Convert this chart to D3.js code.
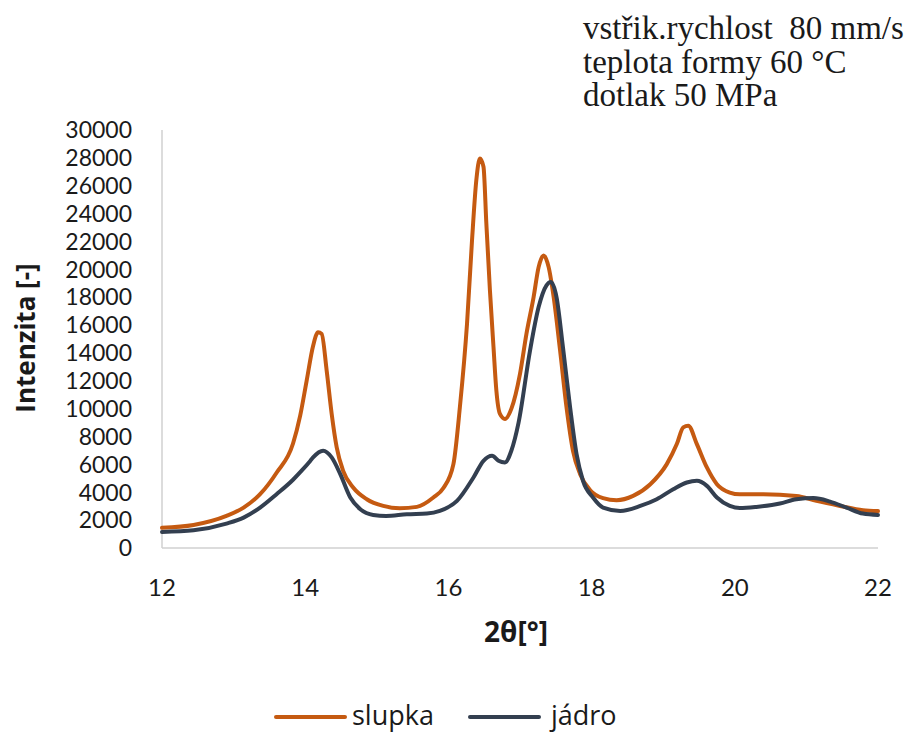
<!DOCTYPE html>
<html>
<head>
<meta charset="utf-8">
<script src="https://cdn.jsdelivr.net/npm/d3@7"></script>
<style>
  html, body { margin: 0; padding: 0; background: #fff; }
  svg { display: block; }
</style>
</head>
<body>
<svg id="chart" width="908" height="735"></svg>
<script>
// Diffraction angle 2θ [°] and intensity for the skin layer ("slupka")
const thetaSlupka = [12.0, 12.44, 12.9, 13.14, 13.37, 13.6, 13.83, 13.93, 14.02, 14.11, 14.18, 14.23, 14.3, 14.37,
  14.44, 14.53, 14.67, 14.86, 15.09, 15.32, 15.56, 15.79, 15.93, 16.07, 16.16, 16.26, 16.33, 16.39, 16.44,
  16.49, 16.53, 16.58, 16.63, 16.67, 16.72, 16.79, 16.88, 17.0, 17.09, 17.19, 17.26, 17.33, 17.4, 17.47,
  17.56, 17.65, 17.74, 17.84, 17.98, 18.16, 18.35, 18.58, 18.82, 19.05, 19.19, 19.28, 19.35, 19.47, 19.61,
  19.75, 19.93, 20.07, 20.4, 20.86, 21.14, 21.47, 21.79, 22.0];
const slupka = [1450, 1650, 2300, 2900, 3860, 5400, 7500, 9500, 12000, 14500, 15490, 15370, 12730, 9620,
  7220, 5540, 4340, 3500, 3020, 2850, 2950, 3620, 4300, 6020, 10090, 16090, 22090, 26400, 27960,
  27360, 23290, 18490, 14410, 11290, 9620, 9260, 10000, 12500, 15370, 18010, 20160, 21000, 20160, 18010,
  14170, 10090, 6980, 5300, 4150, 3580, 3430, 3740, 4580, 6020, 7460, 8660, 8780, 7460, 5780,
  4580, 3980, 3850, 3860, 3740, 3380, 3020, 2710, 2650];

// Diffraction angle 2θ [°] and intensity for the core ("jádro")
const thetaJadro = [12.0, 12.44, 12.9, 13.14, 13.37, 13.6, 13.83, 13.95, 14.07, 14.11, 14.25, 14.37, 14.49, 14.63,
  14.77, 14.95, 15.13, 15.42, 15.7, 15.88, 16.12, 16.35, 16.49, 16.61, 16.7, 16.79, 16.88, 16.98, 17.14,
  17.26, 17.37, 17.43, 17.51, 17.6, 17.7, 17.79, 17.88, 18.02, 18.16, 18.4, 18.68, 18.91, 19.14, 19.33,
  19.47, 19.61, 19.75, 19.93, 20.07, 20.3, 20.63, 20.86, 21.1, 21.33, 21.56, 21.79, 22.0];
const jadro = [1150, 1270, 1750, 2180, 2900, 3860, 4900, 5550, 6250, 6500, 6980, 6500, 5300, 3620,
  2780, 2370, 2300, 2420, 2470, 2660, 3380, 5060, 6260, 6620, 6260, 6140, 7000, 9000, 14170,
  17290, 18850, 19090, 18010, 14410, 10090, 6740, 4820, 3620, 2900, 2660, 3020, 3500, 4220, 4700,
  4820, 4460, 3620, 3020, 2870, 2950, 3190, 3500, 3580, 3330, 2900, 2470, 2370];

const xTicks = [12, 14, 16, 18, 20, 22];
const yTicks = [0, 2000, 4000, 6000, 8000, 10000, 12000, 14000, 16000, 18000, 20000, 22000, 24000, 26000, 28000, 30000];

const seriesNames = ["slupka", "jádro"];
const seriesColors = ["#C55A11", "#333F50"];
const noteLines = ["vstřik.rychlost  80 mm/s", "teplota formy 60 °C", "dotlak 50 MPa"];

const svg = d3.select("#chart");
const sans = "'Open Sans', 'Noto Sans', sans-serif";
const tickFont = "Lato, 'Open Sans', sans-serif";

const x = d3.scaleLinear().domain([12, 22]).range([162, 878]);
const y = d3.scaleLinear().domain([0, 30000]).range([548, 130]);

// Axis lines (no tick marks, no gridlines)
svg.append("line").attr("x1", x(12)).attr("x2", x(22)).attr("y1", y(0)).attr("y2", y(0))
  .attr("stroke", "#D0D0D0").attr("stroke-width", 1.5);
svg.append("line").attr("x1", x(12)).attr("x2", x(12)).attr("y1", y(0)).attr("y2", y(30000))
  .attr("stroke", "#D0D0D0").attr("stroke-width", 1.5);

// Y tick labels
svg.append("g").selectAll("text").data(yTicks).join("text")
  .attr("x", 132).attr("y", d => y(d)).attr("dy", "0.36em")
  .attr("text-anchor", "end").attr("font-family", tickFont).attr("font-size", 23)
  .attr("fill", "#1a1a1a").text(d => d);

// X tick labels
svg.append("g").selectAll("text").data(xTicks).join("text")
  .attr("x", d => x(d)).attr("y", 587).attr("dy", "0.36em")
  .attr("text-anchor", "middle").attr("font-family", tickFont).attr("font-size", 24)
  .attr("fill", "#1a1a1a").text(d => d);

// Axis titles
svg.append("text").attr("transform", "translate(26,338) rotate(-90)")
  .attr("dy", "0.36em").attr("text-anchor", "middle")
  .attr("font-family", sans).attr("font-weight", "bold").attr("font-size", 26)
  .attr("fill", "#1a1a1a").text("Intenzita [-]");
svg.append("text").attr("x", 516).attr("y", 632).attr("dy", "0.36em")
  .attr("text-anchor", "middle").attr("font-family", sans).attr("font-weight", "bold")
  .attr("font-size", 28).attr("fill", "#1a1a1a").text("2θ[°]");

// Intensity curves
const line = d3.line().x(d => x(d[0])).y(d => y(d[1])).curve(d3.curveMonotoneX);
const seriesData = [d3.zip(thetaSlupka, slupka), d3.zip(thetaJadro, jadro)];
svg.append("g").selectAll("path").data(seriesData).join("path")
  .attr("d", line).attr("fill", "none")
  .attr("stroke", (d, i) => seriesColors[i]).attr("stroke-width", 4)
  .attr("stroke-linejoin", "round").attr("stroke-linecap", "round");

// Legend
const legendX = [276, 470];
const legend = svg.append("g").selectAll("g").data(seriesNames).join("g")
  .attr("transform", (d, i) => `translate(${legendX[i]},717)`);
legend.append("line").attr("x1", 0).attr("x2", 69).attr("y1", 0).attr("y2", 0)
  .attr("stroke", (d, i) => seriesColors[i]).attr("stroke-width", 4).attr("stroke-linecap", "round");
legend.append("text").attr("x", (d, i) => i === 0 ? 76 : 81).attr("y", 0).attr("dy", "0.3em")
  .attr("font-family", sans).attr("font-size", 27).attr("fill", "#1a1a1a").text(d => d);

// Processing conditions note
svg.append("g").selectAll("text").data(noteLines).join("text")
  .attr("x", 583).attr("y", (d, i) => 39 + i * 33.5)
  .attr("font-family", "'Liberation Serif', 'Times New Roman', serif")
  .attr("font-size", 33).attr("fill", "#1a1a1a")
  .attr("xml:space", "preserve").style("white-space", "pre").text(d => d);
</script>
</body>
</html>
